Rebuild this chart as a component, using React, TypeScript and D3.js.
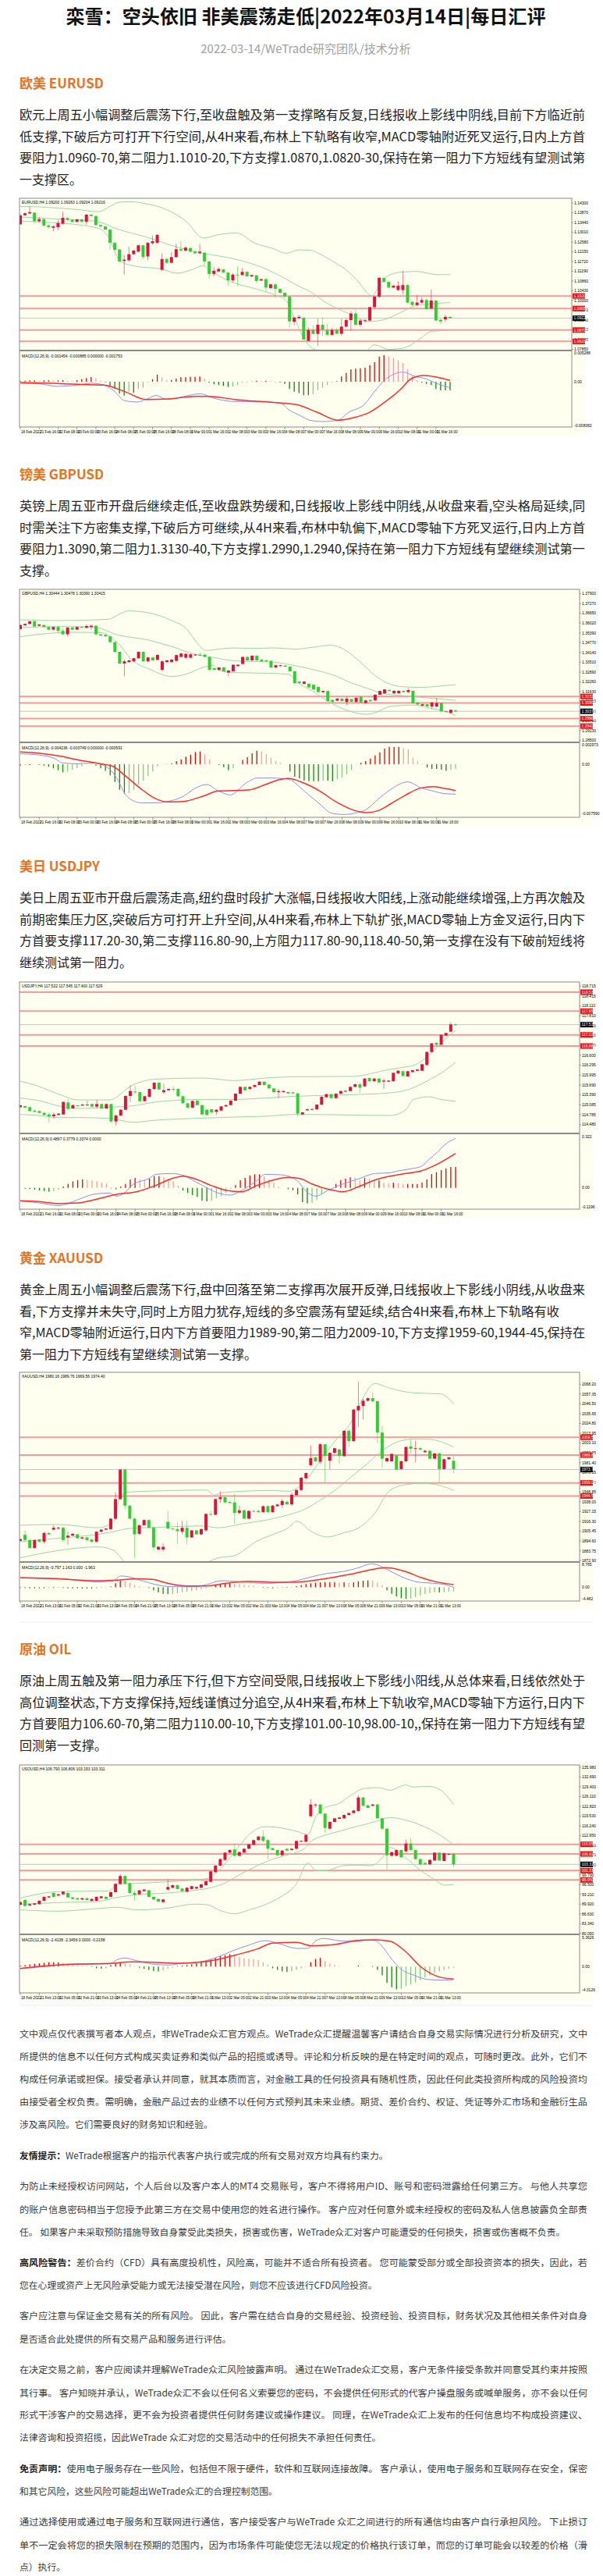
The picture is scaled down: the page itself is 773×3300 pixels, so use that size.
import React from 'react';
import * as d3 from 'd3';

type Candle = [number, number, number, number]; // open, high, low, close
type Knot = [number, number]; // candle index, value

// ---------------- page text ----------------
const titleText = '栾雪：空头依旧 非美震荡走低|2022年03月14日|每日汇评';
const subtitleText = '2022-03-14/WeTrade研究团队/技术分析';

const sectionTitles = ['欧美 EURUSD', '镑美 GBPUSD', '美日 USDJPY', '黄金 XAUUSD', '原油 OIL'];

const eurText = [
  '欧元上周五小幅调整后震荡下行,至收盘触及第一支撑略有反复,日线报收上影线中阴线,目前下方临近前',
  '低支撑,下破后方可打开下行空间,从4H来看,布林上下轨略有收窄,MACD零轴附近死叉运行,日内上方首',
  '要阻力1.0960-70,第二阻力1.1010-20,下方支撑1.0870,1.0820-30,保持在第一阻力下方短线有望测试第',
  '一支撑区。',
];
const gbpText = [
  '英镑上周五亚市开盘后继续走低,至收盘跌势缓和,日线报收上影线中阴线,从收盘来看,空头格局延续,同',
  '时需关注下方密集支撑,下破后方可继续,从4H来看,布林中轨偏下,MACD零轴下方死叉运行,日内上方首',
  '要阻力1.3090,第二阻力1.3130-40,下方支撑1.2990,1.2940,保持在第一阻力下方短线有望继续测试第一',
  '支撑。',
];
const jpyText = [
  '美日上周五亚市开盘后震荡走高,纽约盘时段扩大涨幅,日线报收大阳线,上涨动能继续增强,上方再次触及',
  '前期密集压力区,突破后方可打开上升空间,从4H来看,布林上下轨扩张,MACD零轴上方金叉运行,日内下',
  '方首要支撑117.20-30,第二支撑116.80-90,上方阻力117.80-90,118.40-50,第一支撑在没有下破前短线将',
  '继续测试第一阻力。',
];
const goldText = [
  '黄金上周五小幅调整后震荡下行,盘中回落至第二支撑再次展开反弹,日线报收上下影线小阴线,从收盘来',
  '看,下方支撑并未失守,同时上方阻力犹存,短线的多空震荡有望延续,结合4H来看,布林上下轨略有收',
  '窄,MACD零轴附近运行,日内下方首要阻力1989-90,第二阻力2009-10,下方支撑1959-60,1944-45,保持在',
  '第一阻力下方短线有望继续测试第一支撑。',
];
const oilText = [
  '原油上周五触及第一阻力承压下行,但下方空间受限,日线报收上下影线小阳线,从总体来看,日线依然处于',
  '高位调整状态,下方支撑保持,短线谨慎过分追空,从4H来看,布林上下轨收窄,MACD零轴下方运行,日内下',
  '方首要阻力106.60-70,第二阻力110.00-10,下方支撑101.00-10,98.00-10,,保持在第一阻力下方短线有望',
  '回测第一支撑。',
];

// footer: [bold prefix, text, is full-width line]
const footerLines: [string, string, boolean][] = [
  ['', '文中观点仅代表撰写者本人观点，非WeTrade众汇官方观点。WeTrade众汇提醒温馨客户请结合自身交易实际情况进行分析及研究，文中', true],
  ['', '所提供的信息不以任何方式构成买卖证券和类似产品的招揽或诱导。评论和分析反映的是在特定时间的观点，可随时更改。此外，它们不', true],
  ['', '构成任何承诺或担保。接受者承认并同意，就其本质而言，对金融工具的任何投资具有随机性质，因此任何此类投资所构成的风险投资均', true],
  ['', '由接受者全权负责。需明确，金融产品过去的业绩不以任何方式预判其未来业绩。期货、差价合约、权证、凭证等外汇市场和金融衍生品', true],
  ['', '涉及高风险。它们需要良好的财务知识和经验。', false],
  ['友情提示：', 'WeTrade根据客户的指示代表客户执行或完成的所有交易对双方均具有约束力。', false],
  ['', '为防止未经授权访问网站，个人后台以及客户本人的MT4 交易账号，客户不得将用户ID、账号和密码泄露给任何第三方。 与他人共享您', true],
  ['', '的账户信息密码相当于您授予此第三方在交易中使用您的姓名进行操作。 客户应对任何意外或未经授权的密码及私人信息披露负全部责', true],
  ['', '任。 如果客户未采取预防措施导致自身蒙受此类损失，损害或伤害，WeTrade众汇对客户可能遭受的任何损失，损害或伤害概不负责。', false],
  ['高风险警告：', '差价合约（CFD）具有高度投机性，风险高，可能并不适合所有投资者。 您可能蒙受部分或全部投资资本的损失，因此，若', true],
  ['', '您在心理或资产上无风险承受能力或无法接受潜在风险，则您不应该进行CFD风险投资。', false],
  ['', '客户应注意与保证金交易有关的所有风险。 因此，客户需在结合自身的交易经验、投资经验、投资目标，财务状况及其他相关条件对自身', true],
  ['', '是否适合此处提供的所有交易产品和服务进行评估。', false],
  ['', '在决定交易之前，客户应阅读并理解WeTrade众汇风险披露声明。 通过在WeTrade众汇交易，客户无条件接受条款并同意受其约束并按照', true],
  ['', '其行事。 客户知晓并承认，WeTrade众汇不会以任何名义索要您的密码，不会提供任何形式的代客户操盘服务或喊单服务，亦不会以任何', true],
  ['', '形式干涉客户的交易选择，更不会为投资者提供任何财务建议或操作建议。 同理，在WeTrade众汇上发布的任何信息均不构成投资建议、', true],
  ['', '法律咨询和投资招揽，因此WeTrade 众汇对您的交易活动中的任何损失不承担任何责任。', false],
  ['免责声明：', '使用电子服务存在一些风险，包括但不限于硬件，软件和互联网连接故障。 客户承认，使用电子服务和互联网存在安全，保密', true],
  ['', '和其它风险，这些风险可能超出WeTrade众汇的合理控制范围。', false],
  ['', '通过选择使用或通过电子服务和互联网进行通信，客户接受客户与WeTrade 众汇之间进行的所有通信均由客户自行承担风险。 下止损订', true],
  ['', '单不一定会将您的损失限制在预期的范围内，因为市场条件可能使您无法以规定的价格执行该订单，而您的订单可能会以较差的价格（滑', true],
  ['', '点）执行。', false],
];

// ---------------- time labels ----------------
const timeLabelsA = ['18 Feb 2022', '21 Feb 16:00', '22 Feb 08:00', '23 Feb 00:00', '23 Feb 16:00', '24 Feb 08:00', '25 Feb 00:00', '25 Feb 16:00', '28 Feb 08:00', '1 Mar 00:00', '1 Mar 16:00', '2 Mar 08:00', '3 Mar 00:00', '3 Mar 16:00', '4 Mar 08:00', '7 Mar 00:00', '7 Mar 16:00', '8 Mar 08:00', '9 Mar 00:00', '9 Mar 16:00', '10 Mar 08:00', '11 Mar 00:00', '11 Mar 16:00'];
const timeLabelsB = ['18 Feb 2022', '21 Feb 13:00', '22 Feb 05:00', '22 Feb 21:00', '23 Feb 13:00', '24 Feb 05:00', '24 Feb 21:00', '25 Feb 13:00', '28 Feb 05:00', '28 Feb 21:00', '1 Mar 13:00', '2 Mar 05:00', '2 Mar 21:00', '3 Mar 13:00', '4 Mar 05:00', '4 Mar 21:00', '7 Mar 13:00', '8 Mar 05:00', '8 Mar 21:00', '9 Mar 13:00', '10 Mar 05:00', '10 Mar 21:00', '11 Mar 13:00'];

// ---------------- EURUSD (prices in 1e-4, MACD in 1e-4) ----------------
const eurCandles: Candle[] = [
  [11335,11380,11335,11375],[11375,11389,11373,11384],[11383,11414,11380,11389],[11387,11389,11343,11349],[11349,11368,11343,11358],
  [11358,11360,11326,11330],[11330,11338,11318,11323],[11320,11332,11305,11326],[11323,11355,11311,11341],[11338,11391,11335,11364],
  [11363,11368,11349,11355],[11355,11357,11344,11346],[11346,11360,11344,11357],[11357,11360,11344,11346],[11346,11380,11332,11378],
  [11378,11380,11370,11372],[11372,11373,11330,11332],[11332,11335,11323,11326],[11326,11328,11310,11312],[11312,11312,11223,11254],
  [11254,11257,11220,11223],[11225,11225,11166,11172],[11174,11200,11114,11180],[11177,11238,11169,11204],[11204,11223,11200,11220],
  [11215,11246,11212,11243],[11243,11243,11183,11192],[11194,11257,11177,11254],[11252,11286,11246,11261],[11254,11292,11250,11289],
  [11135,11208,11131,11183],[11183,11189,11160,11166],[11166,11212,11166,11191],[11191,11249,11189,11226],[11226,11261,11215,11220],
  [11220,11240,11215,11233],[11231,11235,11212,11215],[11215,11220,11204,11208],[11208,11249,11206,11215],[11210,11215,11154,11172],
  [11172,11172,11097,11117],[11117,11146,11105,11131],[11128,11146,11126,11139],[11137,11140,11120,11123],[11123,11126,11066,11089],
  [11089,11120,11080,11114],[11114,11151,11063,11111],[11112,11142,11109,11126],[11126,11128,11106,11106],[11106,11114,11103,11112],
  [11111,11112,11078,11086],[11088,11097,11086,11094],[11094,11100,11040,11057],[11055,11074,11051,11071],[11071,11074,11011,11051],
  [11051,11054,11030,11034],[11034,11034,11011,11017],[11017,11020,10880,10908],[10906,10928,10891,10925],[10922,10937,10920,10928],
  [10924,10928,10828,10828],[10822,10883,10822,10870],[10870,10891,10851,10853],[10853,10920,10799,10893],[10893,10925,10845,10872],
  [10868,10897,10845,10849],[10849,10880,10845,10870],[10870,10880,10851,10854],[10854,10920,10845,10885],[10885,10922,10880,10914],
  [10914,10954,10868,10943],[10943,10960,10888,10893],[10893,10917,10885,10912],[10910,10920,10902,10913],[10912,10971,10908,10971],
  [10971,11020,10965,11017],[11017,11103,11011,11100],[11099,11103,11080,11082],[11082,11085,11055,11057],[11057,11070,11055,11065],
  [11046,11086,11043,11065],[11046,11131,11028,11068],[11068,11074,10986,10991],[10994,10996,10978,10980],[10980,11023,10979,10991],
  [10991,11014,10986,11002],[11002,11011,10959,10962],[10965,11048,10963,11000],[11000,11002,10910,10912],[10915,10920,10897,10908],
  [10917,10937,10908,10928],[10928,10930,10922,10922],
];
const eurUpper: Knot[] = [[1,11414],[5,11412],[13.2,11400],[17.6,11391],[19.8,11412],[22,11433],[24.2,11435],[27.6,11426],[32,11400],[36.4,11343],[39.7,11275],[43.5,11292],[46.8,11297],[50.7,11252],[54.5,11229],[57.3,11208],[60,11223],[62.8,11220],[63.7,11212],[67.2,11172],[70.5,11126],[72.7,11080],[74.4,11034],[75.5,11020],[77,11068],[79,11110],[82.1,11126],[84.9,11128],[89.3,11114],[92,11114]];
const eurMiddle: Knot[] = [[1,11368],[7.7,11360],[13.2,11355],[17.6,11346],[21.5,11315],[27.6,11280],[34.2,11235],[39.7,11208],[46.3,11183],[51.8,11149],[57.3,11094],[59.5,11068],[62.8,11034],[65,11000],[70.5,10943],[74.9,10908],[77.7,10914],[81.6,10948],[84.3,10975],[89.3,10988],[92,10991]];
const eurLower: Knot[] = [[1,11349],[7.7,11343],[17.6,11318],[19.8,11275],[22,11177],[25.3,11151],[30.9,11139],[34.2,11120],[37.5,11137],[39.7,11154],[40.8,11137],[45.2,11086],[51.8,11046],[55.1,11023],[57.3,11000],[58.4,10954],[60.6,10851],[62.8,10790],[66,10770],[70,10740],[74,10770],[76,10805],[79,10785],[82,10790],[85.4,10828],[88.2,10865],[92,10868]];
const eurLevels = [11020, 10965, 10870, 10820];
const eurCurrent = 10922;
const eurTicks = [11430,11387,11344,11301,11258,11215,11172,11129,11086,11043,11000,10957,10914,10871,10828,10785];
const eurHist = [1.0,1.9,2.4,2.4,1.9,2.4,2.4,1.9,2.4,2.9,1.4,1.0,2.9,4.8,6.7,8.6,6.7,1.9,-1.0,-7.7,-13.4,-22.1,-25.4,-18.2,-20.6,-13.4,-11.0,-1.4,4.8,13.0,8.2,3.4,3.4,5.8,8.2,8.2,9.1,9.1,9.6,5.8,-1.9,-4.8,-6.2,-7.7,-9.6,-8.6,-6.2,-1.9,-1.4,0.5,1.9,1.0,1.9,1.0,-0.5,-1.4,-3.8,-13.4,-18.2,-21,-25,-25,-23,-15.8,-11.0,-6.2,-1.4,1.0,9.6,16.3,22.6,24.0,25.0,26.0,30.7,36.0,46.6,49.0,46.6,44.0,39.4,34.6,22.6,10.6,3.4,-1.4,-3.8,-6.2,-13.4,-15.8,-15.8,-15.8];
const eurMacd: Knot[] = [[1,-2.9],[5,-3.8],[8.8,-8.6],[13.2,-6.2],[16,-2.9],[18.7,-6.2],[21,-18.2],[23.1,-35],[25.9,-37.4],[27.6,-32.6],[29.8,-25.4],[32,-32.6],[35.3,-27.8],[39.1,-22.1],[41.9,-30.2],[46.3,-36.5],[51.8,-36.5],[56.2,-39.8],[57.9,-51.8],[60,-61.4],[62.8,-72],[65,-73.4],[68.3,-71],[70.5,-56.6],[73.8,-42.2],[76,-18.2],[78.2,3.4],[80.5,15.4],[82.1,17.8],[84.3,10.6],[87.1,4.8],[89.3,-3.8],[92,-11]];
const eurSignal: Knot[] = [[1,-1.4],[7.7,-2.9],[13.2,-4.8],[18.7,-6.2],[23.1,-18.2],[27.6,-32.6],[32.5,-31.7],[38,-26.9],[40.8,-26.9],[46.3,-32.6],[51.8,-36.5],[57.3,-39.8],[59.5,-42.2],[63.9,-56.6],[68.3,-71],[71.6,-66.2],[74.9,-56.6],[78.2,-37.4],[81.6,-13.4],[83.8,5.8],[86.5,11.5],[89.3,8.2],[92,2.4]];
const eurMacdLabels: [number, string][] = [[52.9, '0.005288'], [0, '0.00'], [-80.8, '-0.008082']];

// ---------------- GBPUSD (prices in 1e-4, MACD in 1e-4) ----------------
const gbpCandles: Candle[] = [
  [13563,13593,13560,13590],[13588,13600,13585,13597],[13597,13617,13593,13613],[13613,13617,13577,13580],[13585,13597,13580,13593],
  [13590,13593,13575,13577],[13577,13580,13557,13560],[13560,13580,13557,13577],[13577,13580,13538,13552],[13552,13567,13527,13530],
  [13530,13577,13518,13573],[13573,13577,13557,13560],[13560,13580,13557,13577],[13577,13580,13568,13572],[13572,13593,13568,13583],
  [13577,13593,13560,13585],[13585,13588,13527,13530],[13530,13533,13520,13522],[13527,13530,13513,13517],[13517,13520,13477,13480],
  [13480,13483,13413,13418],[13418,13420,13340,13343],[13343,13368,13260,13357],[13352,13368,13348,13363],[13357,13380,13352,13377],
  [13377,13420,13373,13418],[13418,13422,13352,13357],[13357,13385,13352,13382],[13382,13385,13360,13363],[13367,13403,13363,13398],
  [13302,13363,13295,13357],[13352,13368,13348,13363],[13352,13372,13348,13368],[13360,13400,13355,13397],[13385,13413,13382,13407],
  [13380,13410,13377,13405],[13380,13407,13377,13402],[13397,13405,13393,13400],[13400,13413,13390,13393],[13400,13403,13382,13385],
  [13385,13388,13298,13302],[13313,13317,13298,13302],[13302,13320,13298,13318],[13318,13322,13290,13293],[13285,13302,13260,13298],
  [13293,13338,13290,13335],[13327,13340,13323,13335],[13340,13390,13335,13385],[13385,13393,13360,13363],[13363,13397,13360,13393],
  [13393,13397,13360,13363],[13368,13372,13352,13357],[13363,13367,13352,13357],[13360,13363,13315,13318],[13318,13335,13313,13332],
  [13327,13335,13323,13332],[13330,13333,13320,13323],[13323,13327,13290,13293],[13293,13297,13215,13218],[13227,13230,13213,13218],
  [13213,13230,13208,13227],[13213,13217,13187,13190],[13207,13210,13173,13177],[13193,13197,13157,13160],[13160,13170,13155,13168],
  [13167,13170,13098,13102],[13110,13113,13093,13097],[13105,13122,13102,13118],[13118,13122,13098,13102],[13097,13130,13077,13118],
  [13115,13118,13095,13098],[13097,13127,13093,13123],[13130,13133,13090,13093],[13090,13110,13087,13107],[13110,13113,13098,13102],
  [13107,13147,13103,13143],[13143,13170,13140,13167],[13152,13180,13148,13177],[13173,13177,13163,13167],[13152,13172,13148,13168],
  [13152,13172,13148,13168],[13168,13172,13157,13160],[13160,13185,13152,13173],[13168,13172,13085,13088],[13093,13097,13077,13080],
  [13073,13085,13070,13082],[13082,13085,13065,13068],[13068,13097,13052,13093],[13068,13123,13060,13090],[13090,13093,13035,13037],
  [13038,13042,13030,13033],[13027,13050,13022,13047],[13043,13047,13033,13037],
];
const gbpUpper: Knot[] = [[1,13623],[9.1,13618],[19.8,13627],[21.5,13652],[23.9,13680],[28.1,13668],[33,13618],[36.3,13560],[37.9,13493],[40.3,13427],[42.9,13435],[46.2,13443],[49.5,13440],[54.5,13443],[59.4,13435],[62.7,13447],[66.8,13460],[69.3,13435],[72.6,13360],[75.9,13268],[79.2,13210],[82.5,13193],[85.8,13190],[89.1,13197],[93,13207]];
const gbpMiddle: Knot[] = [[1,13573],[9.1,13580],[16.5,13577],[21.5,13527],[28.1,13493],[33,13452],[37.9,13402],[41.3,13385],[46.2,13360],[54.5,13352],[59.4,13327],[64.4,13293],[67.7,13263],[71,13218],[74.3,13185],[77.6,13152],[80.9,13140],[84.2,13130],[87.5,13122],[93,13107]];
const gbpLower: Knot[] = [[1,13515],[6.6,13535],[13.2,13543],[18.2,13540],[21.5,13477],[24.8,13360],[28.1,13310],[33,13260],[36.3,13277],[39.6,13318],[41.7,13330],[43,13300],[46.2,13285],[54.5,13280],[57.8,13273],[59.4,13227],[62.7,13168],[66,13102],[69.3,13052],[74.3,13018],[75.9,13027],[79.2,13068],[84.2,13077],[87.5,13057],[90.8,13035],[93,13010]];
const gbpLevels = [13132, 13090, 12990, 12942];
const gbpCurrent = 13037;
const gbpTicks = [13790,13727,13665,13602,13539,13477,13414,13351,13289,13226,13163,13101,13038,12975,12913,12850];
const gbpHist = [-2.0,-1.2,-1.2,-0.4,-0.8,-2.0,-4.0,-6.4,-9.2,-12.5,-11.3,-8.4,-6.0,-3.2,-0.4,-0.4,-2.0,-6.4,-10.1,-17.3,-27.3,-39.4,-45.4,-44.6,-39.4,-31.4,-25.3,-18.1,-11.3,-3.2,-0.4,0.4,1.2,4.8,7.6,11.7,14.9,18.9,19.7,15.7,7.6,0,-1.2,-4.4,-9.2,-6.0,0,6.8,10.9,16.9,20.9,19.7,15.7,10.1,4.8,2.0,0,-11.3,-19.3,-22.1,-25.3,-26.1,-26.1,-26.1,-25.3,-25.3,-26.1,-23.3,-20.5,-15.3,-9.2,-0.4,2.0,4.8,8.8,13.7,18.1,24.1,26.9,26.9,26.9,24.9,22.9,10.1,4.8,-0.4,-5.2,-7.2,-7.2,-8.4,-10.1,-8.4,-7.2];
const gbpMacd: Knot[] = [[1,16.1],[4.1,14.9],[8.3,8.8],[9.9,2.0],[13.2,0.8],[16.5,2.0],[19.8,-7.2],[21.4,-21.3],[23.1,-45.4],[25.2,-57.5],[26.4,-59.5],[29.7,-59.5],[32.2,-57.5],[35.5,-49.4],[37.9,-37.4],[40.4,-31.4],[42.9,-41.4],[45.4,-47.4],[48.7,-29.3],[51.1,-21.3],[54.4,-21.3],[57.7,-23.3],[61,-41.4],[64.3,-61.5],[66.8,-75.6],[69.3,-77.6],[71.7,-75.6],[74.2,-69.5],[76.7,-53.5],[79.2,-39.4],[82.9,-27.3],[85.7,-36.6],[88.2,-41.4],[90.7,-45.4],[93,-46.2]];
const gbpSignal: Knot[] = [[1,18.9],[5,16.9],[9.1,12.9],[13.2,6.8],[17.3,1.6],[20.6,-3.2],[23.1,-17.3],[26.4,-37.4],[29.7,-53.5],[32.2,-58.3],[35.5,-57.5],[39.6,-49.4],[42.9,-41.4],[46.2,-40.6],[49.5,-39.4],[52.8,-31.4],[56.1,-23.3],[57.7,-22.1],[61,-29.3],[64.3,-41.4],[67.6,-57.5],[70.9,-69.5],[74.2,-74.8],[76.7,-71.6],[79.2,-61.5],[82.5,-47.4],[85.7,-36.6],[88.2,-34.6],[90.7,-37.4],[93,-40.6]];
const gbpMacdLabels: [number, string][] = [[29.7, '0.002973'], [0, '0.00'], [-75.9, '-0.007590']];

// ---------------- USDJPY (MACD in 1e-3) ----------------
const jpyCandles: Candle[] = [
  [115.014,115.093,114.998,115.069],[115.045,115.061,114.990,114.998],[115.014,115.030,114.880,114.894],[114.910,114.920,114.860,114.870],[114.894,114.910,114.830,114.838],
  [114.838,114.850,114.760,114.775],[114.791,114.854,114.536,114.735],[114.735,114.854,114.655,114.791],[114.775,114.830,114.760,114.815],[114.791,115.190,114.775,115.173],
  [115.157,115.268,114.934,114.958],[114.974,115.093,114.960,115.077],[115.069,115.085,115.030,115.045],[115.061,115.110,115.050,115.093],[115.069,115.213,115.053,115.093],
  [115.109,115.120,115.015,115.030],[115.030,115.236,114.974,115.109],[115.109,115.120,114.960,114.974],[114.974,115.120,114.960,115.109],[115.109,115.115,114.536,114.576],
  [114.576,114.791,114.456,114.759],[114.759,114.950,114.740,114.934],[114.934,115.370,114.920,115.356],[115.356,115.690,115.173,115.507],[115.491,115.666,115.412,115.467],
  [115.475,115.490,115.180,115.197],[115.197,115.360,115.180,115.348],[115.332,115.590,115.316,115.571],[115.571,115.780,115.555,115.762],[115.762,115.770,115.540,115.555],
  [115.475,115.730,115.412,115.531],[115.531,115.590,115.520,115.571],[115.571,115.650,115.491,115.555],[115.571,115.590,115.340,115.348],[115.348,115.360,115.120,115.133],
  [115.133,115.150,114.980,114.998],[114.998,115.220,114.990,115.205],[115.213,115.230,115.060,115.077],[115.077,115.090,114.770,114.791],[114.934,114.950,114.760,114.775],
  [114.950,114.960,114.840,114.854],[114.870,114.950,114.780,114.934],[114.910,115.050,114.890,115.037],[115.037,115.090,115.020,115.077],[115.077,115.230,115.060,115.213],
  [115.213,115.440,115.200,115.427],[115.427,115.650,115.410,115.634],[115.634,115.650,115.520,115.531],[115.571,115.650,115.550,115.634],[115.634,115.700,115.620,115.690],
  [115.690,115.800,115.680,115.794],[115.794,115.810,115.680,115.690],[115.706,115.720,115.575,115.587],[115.587,115.600,115.460,115.475],[115.475,115.571,115.292,115.507],
  [115.475,115.530,115.460,115.507],[115.475,115.490,115.420,115.435],[115.467,115.480,115.420,115.435],[115.435,115.451,114.735,114.815],[114.791,114.870,114.770,114.854],
  [114.918,114.970,114.900,114.950],[114.934,114.980,114.920,114.958],[114.950,115.100,114.930,115.093],[115.093,115.340,115.080,115.332],[115.316,115.430,115.300,115.412],
  [115.412,115.430,115.280,115.292],[115.292,115.440,115.270,115.427],[115.427,115.520,115.410,115.507],[115.491,115.530,115.470,115.515],[115.507,115.650,115.490,115.634],
  [115.634,115.730,115.620,115.714],[115.714,115.770,115.451,115.611],[115.650,115.900,115.630,115.889],[115.905,115.920,115.790,115.810],[115.810,115.900,115.790,115.889],
  [115.889,115.900,115.750,115.770],[115.794,115.889,115.571,115.826],[115.794,115.840,115.780,115.826],[115.810,116.080,115.790,116.064],[116.048,116.150,116.030,116.128],
  [116.112,116.130,115.950,115.969],[115.953,116.130,115.940,116.112],[116.088,116.160,116.070,116.144],[116.128,116.180,116.110,116.168],[116.128,116.340,116.110,116.327],
  [116.303,116.720,116.290,116.701],[116.701,116.980,116.680,116.964],[116.980,117.000,116.910,116.924],[116.924,117.240,116.900,117.226],[117.203,117.300,117.190,117.282],
  [117.322,117.617,117.300,117.545],[117.545,117.577,117.513,117.537],
];
const jpyUpper: Knot[] = [[1,115.810],[4.9,115.650],[9,115.412],[13.1,115.236],[19.6,115.236],[24.5,115.690],[29.4,115.873],[39.2,115.905],[45.7,115.826],[52.2,115.905],[58.7,115.945],[70.2,115.953],[78.3,116.168],[81.6,116.247],[83.2,116.287],[86.5,116.606],[88.9,116.964],[92,117.362]];
const jpyMiddle: Knot[] = [[1,115.292],[4.9,115.213],[9,115.053],[13.1,114.974],[19.6,115.014],[24.5,115.053],[29.4,115.173],[39.2,115.252],[45.7,115.252],[52.2,115.292],[58.7,115.348],[70.2,115.396],[78.3,115.451],[81.6,115.531],[83.2,115.611],[86.5,115.849],[88.9,116.048],[92,116.383]];
const jpyLower: Knot[] = [[1,114.791],[4.9,114.759],[9,114.695],[13.1,114.695],[19.6,114.671],[24.5,114.552],[29.4,114.616],[39.2,114.679],[45.7,114.711],[52.2,114.735],[58.7,114.791],[70.2,114.775],[78.3,114.759],[81.6,114.934],[83.2,115.252],[86.5,115.332],[88.9,115.252],[92,115.189]];
const jpyLevels = [118.532, 117.951, 117.226, 116.884];
const jpyCurrent = 117.537;
const jpyTicks = [118.715,118.415,118.110,117.810,117.505,117.205,116.900,116.600,116.295,115.995,115.690,115.390,115.085,114.785,114.480];
const jpyHist = [0,-4.9,-8.2,-11.4,-16.4,-19.6,-24.5,-21.3,-11.4,8.2,24.5,40.9,49.1,52.3,49.1,45.8,40.9,32.7,27.8,-3.3,-8.2,8.2,24.5,52.3,62.1,52.3,49.1,57.2,73.6,73.6,65.4,57.2,40.9,13.1,-16.4,-32.7,-45.8,-57.2,-81.8,-85,-81.8,-65.4,-52.3,-32.7,-8.2,16.4,49.1,62.1,78.5,85,85,73.6,52.3,32.7,8.2,0,-8.2,-16.4,-40.9,-89.9,-98.1,-94.8,-73.6,-40.9,-13.1,0,24.5,49.1,57.2,65.4,62.1,49.1,62.1,57.2,45.8,45.8,32.7,29.4,32.7,29.4,24.5,24.5,24.5,24.5,32.7,52.3,85,98.1,111.2,122.6,130.8,130.8];
const jpyMacd: Knot[] = [[1,-81.8],[4.9,-94.8],[9,-111.2],[13.1,-73.6],[16.3,-40.9],[19.6,-32.7],[21.2,-52.3],[22.9,-29.4],[24.5,19.6],[27.8,57.2],[29.4,85],[32.6,89.9],[35.1,78.5],[37.5,40.9],[40,0],[42.4,-32.7],[44.9,-45.8],[47.3,-16.4],[50.6,49.1],[52.2,85],[55.5,81.8],[58.7,49.1],[61.2,-32.7],[62.8,-52.3],[65.3,-16.4],[68.5,24.5],[71.8,57.2],[75.1,89.9],[78.3,94.8],[80,106.3],[83.2,122.6],[84.8,134.1],[86.5,179.9],[88.1,220.7],[89.7,269.8],[92,310.7]];
const jpySignal: Knot[] = [[1,-81.8],[4.9,-86.7],[9,-98.1],[13.1,-94.8],[17.1,-70.3],[21.2,-40.9],[25.3,-24.5],[29.4,16.4],[32.6,57.2],[35.1,73.6],[37.5,57.2],[40.8,16.4],[44.1,-16.4],[47.3,-24.5],[50.6,16.4],[53.9,49.1],[57.1,65.4],[59.6,57.2],[62,24.5],[65.3,-8.2],[68.5,-24.5],[71.8,8.2],[75.1,49.1],[78.3,73.6],[81.6,89.9],[84.8,106.3],[88.1,147.2],[92,215.8]];
const jpyMacdLabels: [number, string][] = [[322, '0.322'], [0, '0.00'], [-119.6, '-0.1196']];

// ---------------- XAUUSD ----------------
const goldCandles: Candle[] = [
  [1894.8,1897.5,1894.0,1896.8],[1901.5,1906.4,1894.8,1895.7],[1895.7,1896.5,1886.5,1887.0],[1887.0,1896.5,1886.0,1895.7],[1896.3,1897.0,1893.0,1893.9],
  [1893.9,1904.9,1891.9,1903.5],[1903.5,1904.5,1901.5,1902.0],[1907.2,1912.1,1906.4,1909.3],[1908.4,1910.5,1907.5,1909.3],[1909.3,1910.7,1893.4,1895.7],
  [1898.6,1904.9,1890.5,1900.6],[1900.6,1903.5,1900.0,1902.6],[1902.0,1903.0,1897.0,1897.7],[1897.4,1899.5,1897.0,1898.6],[1898.6,1899.5,1895.0,1895.7],
  [1896.3,1897.0,1892.5,1893.9],[1893.9,1905.5,1893.0,1904.9],[1904.9,1907.8,1904.0,1907.2],[1907.2,1909.0,1906.5,1908.4],[1907.8,1920.0,1907.0,1919.4],
  [1919.4,1948.8,1917.9,1941.0],[1941.0,1974.0,1940.0,1973.7],[1973.7,1974.0,1929.5,1933.8],[1933.8,1934.5,1919.0,1919.4],[1919.4,1920.8,1876.0,1902.0],
  [1902.6,1913.0,1901.5,1912.1],[1912.1,1918.5,1911.5,1917.9],[1917.9,1918.5,1908.5,1909.3],[1909.3,1910.7,1884.7,1887.6],[1885.3,1889.0,1884.5,1888.2],
  [1885.3,1891.9,1883.3,1888.2],[1915.9,1928.0,1907.8,1908.4],[1908.4,1909.0,1907.0,1907.8],[1907.8,1915.0,1891.9,1905.5],[1904.9,1917.0,1902.0,1909.3],
  [1909.3,1917.0,1890.5,1898.6],[1898.6,1907.0,1898.0,1906.4],[1906.4,1907.0,1901.5,1902.0],[1902.0,1908.5,1901.0,1907.8],[1906.4,1925.5,1905.5,1924.6],
  [1924.6,1928.0,1922.3,1923.7],[1923.7,1942.0,1923.0,1941.0],[1941.0,1949.7,1936.7,1943.1],[1943.1,1944.0,1937.0,1937.3],[1937.9,1938.5,1936.0,1936.7],
  [1937.3,1946.8,1913.6,1925.7],[1925.7,1933.8,1923.7,1928.6],[1928.6,1929.5,1919.0,1919.4],[1919.4,1928.5,1918.5,1928.0],[1928.0,1929.0,1927.0,1927.5],
  [1928.0,1929.0,1926.0,1926.6],[1926.6,1934.0,1926.0,1933.2],[1933.2,1934.0,1926.0,1926.6],[1926.6,1934.5,1926.0,1933.8],[1933.2,1936.0,1932.5,1935.0],
  [1934.4,1941.0,1930.9,1939.0],[1938.1,1939.0,1934.5,1935.3],[1935.3,1948.3,1933.8,1945.9],[1945.4,1952.0,1944.5,1951.1],[1951.1,1965.5,1950.5,1964.7],
  [1964.1,1970.5,1963.5,1969.9],[1978.6,2000.3,1977.2,1986.4],[1987.3,1988.0,1982.0,1982.9],[1982.3,2003.1,1980.0,2001.7],[2001.7,2002.0,1959.8,1988.7],
  [1983.5,1993.0,1974.3,1992.2],[1992.2,1998.0,1991.5,1997.4],[1995.9,1997.4,1980.0,1988.7],[1988.7,2017.5,1988.0,2016.7],[2016.7,2019.0,1998.8,2005.2],
  [2005.2,2041.0,2004.5,2040.1],[2039.3,2071.0,2020.5,2044.2],[2044.2,2052.3,2029.1,2049.9],[2049.9,2053.5,2049.0,2052.8],[2052.8,2059.5,2047.9,2049.4],
  [2049.4,2050.8,2003.1,2014.7],[2014.7,2021.9,1975.7,1985.8],[1982.9,1987.5,1981.5,1986.4],[1982.9,1992.0,1982.0,1991.0],[1989.3,1990.0,1973.0,1973.7],
  [1974.3,1984.0,1973.5,1982.9],[1982.9,1999.0,1982.0,1998.8],[1999.4,2007.5,1991.6,1996.8],[1996.8,2006.0,1981.5,1997.4],[1997.4,1998.5,1995.0,1995.9],
  [1993.0,1996.0,1992.0,1994.5],[1994.5,1995.5,1985.0,1985.8],[1985.8,1992.0,1985.0,1991.6],[1991.6,1993.0,1959.8,1974.3],[1974.3,1986.0,1973.5,1985.2],
  [1985.2,1987.5,1984.5,1987.3],[1983.5,1988.7,1969.9,1974.3],
];
const goldUpper: Knot[] = [[1,1912.1],[9,1913.0],[17.2,1909.3],[20.5,1915.0],[22.1,1945.4],[23.8,1948.8],[33.6,1950.6],[40.1,1951.1],[41.8,1945.4],[43.4,1948.3],[54.1,1950.6],[57.3,1949.7],[60.6,1959.8],[63.9,1982.9],[67.2,2006.0],[70.5,2026.3],[72.9,2052.3],[75.4,2069.0],[78.6,2063.8],[83.6,2058.6],[89.3,2057.5],[92,2046.5]];
const goldMiddle: Knot[] = [[1,1893.9],[9,1897.7],[17.2,1902.0],[20.5,1904.9],[23.8,1908.4],[31.1,1910.1],[39.3,1911.3],[42.6,1909.3],[47.5,1913.6],[54.1,1919.4],[57.3,1923.7],[60.6,1929.5],[63.9,1939.6],[67.2,1951.1],[70.5,1965.6],[73.8,1980.0],[77,1994.5],[80.3,2004.6],[83.6,2007.5],[86.9,2007.2],[92,1998.8]];
const goldLower: Knot[] = [[1,1876.0],[9,1884.1],[17.2,1888.2],[20.5,1884.7],[22.9,1871.7],[25.4,1864.5],[33.6,1867.4],[39.3,1869.7],[42.6,1876.0],[45.9,1878.3],[50.8,1894.8],[54.1,1902.0],[57.3,1909.3],[59,1916.5],[62.2,1904.9],[65.5,1899.1],[68.8,1903.5],[72.1,1909.3],[75.4,1925.1],[78.6,1950.6],[81.9,1956.9],[85.2,1958.4],[88.5,1956.9],[92,1950.6]];
const goldLevels = [2009.5, 1989.8, 1959.0, 1944.5];
const goldCurrent = 1973.7;
const goldTicks = [2068.20,2057.35,2046.50,2035.65,2024.80,2013.95,2003.10,1992.25,1981.40,1970.55,1959.70,1948.85,1938.00,1927.15,1916.30,1905.45,1894.60,1883.75,1872.90];
const goldHist = [-0.3,-0.3,-0.4,-0.4,-0.4,-0.4,-0.3,-0.3,-0.2,-0.3,-0.4,-0.4,-0.4,-0.5,-0.5,-0.5,-0.4,-0.3,-0.1,0.3,1.5,2.5,2.2,1.6,0.8,0.4,0.2,-0.3,-1.2,-2.0,-2.5,-2.7,-2.6,-2.3,-1.9,-1.7,-1.4,-1.1,-0.8,-0.4,0.2,0.8,1.2,1.4,1.5,1.3,1.2,1.0,0.8,0.6,0.2,-0.2,-0.3,-0.4,-0.3,-0.2,-0.2,0.1,0.4,0.8,1.2,1.5,1.7,1.9,2.0,2.0,2.0,1.8,1.9,1.7,1.9,2.2,2.5,2.6,2.5,1.8,0.8,-1.2,-2.5,-3.5,-4.2,-4.5,-4.4,-3.8,-3.2,-2.6,-2.2,-2.0,-2.0,-1.9,-1.8,-1.6];
const goldMacd: Knot[] = [[1,3.5],[9,3.3],[17.2,2.0],[20.5,2.5],[22.1,4.3],[23.8,4.0],[26.2,2.7],[29.5,1.0],[32.8,0.2],[37.7,0.2],[40.1,1.0],[43.4,2.5],[47.5,2.0],[52.4,1.5],[55.7,1.7],[59,2.5],[62.2,4.0],[65.5,5.3],[68.8,6.0],[72.1,7.5],[74.6,8.9],[75.8,8.7],[77.8,7.0],[81.1,4.0],[84.4,2.0],[87.7,1.5],[90.2,1.0],[92,0]];
const goldSignal: Knot[] = [[1,3.7],[9,3.2],[17.2,2.5],[21.3,2.7],[25.4,3.2],[28.7,3.0],[32,1.5],[36.1,0.5],[40.1,0.5],[44.2,1.5],[49.1,2.3],[54.1,1.9],[59,2.0],[62.2,2.5],[66.4,3.7],[70.5,5.0],[74.6,6.7],[77.8,7.5],[81.9,6.0],[85.2,3.7],[88.5,2.0],[92,1.0]];
const goldMacdLabels: [number, string][] = [[8.765, '8.765'], [0, '0.00'], [-4.48, '-4.482']];

// ---------------- OIL ----------------
const oilCandles: Candle[] = [
  [89.73,90.80,89.40,90.61],[91.31,91.60,89.20,89.29],[89.47,90.10,89.30,89.91],[89.73,90.40,89.50,90.17],[89.91,91.20,89.80,91.04],
  [91.04,92.50,90.90,92.36],[92.18,92.70,92.00,92.53],[93.67,93.90,92.20,92.36],[92.80,93.40,92.60,93.23],[93.23,94.30,93.00,94.11],
  [93.67,93.90,92.00,92.18],[92.18,92.40,91.50,91.66],[91.92,92.10,91.30,91.48],[91.48,92.10,91.30,91.92],[91.92,92.10,91.10,91.31],
  [91.04,91.80,90.80,91.66],[91.04,92.50,90.90,92.36],[91.92,92.70,91.80,92.53],[92.36,92.60,91.50,91.66],[92.36,94.10,92.20,93.94],
  [93.94,96.90,93.80,96.74],[96.74,100.07,96.30,99.37],[99.37,99.60,96.60,96.74],[96.92,97.10,93.50,93.67],[93.67,94.55,91.04,93.06],
  [93.23,94.70,93.00,94.55],[94.29,95.00,94.10,94.81],[94.55,94.80,92.20,92.36],[92.36,92.60,91.30,91.48],[91.66,91.90,90.60,90.78],
  [90.61,91.70,90.40,91.48],[94.81,98.31,94.55,95.69],[95.42,96.50,95.20,96.30],[96.30,96.50,94.80,94.99],[95.16,95.40,94.10,94.29],
  [94.11,95.60,93.90,95.42],[94.99,96.10,94.80,95.95],[95.16,95.90,95.00,95.69],[95.42,96.80,95.20,96.56],[96.30,97.80,96.10,97.61],
  [97.44,101.10,97.20,100.94],[100.68,103.10,100.50,102.87],[102.87,105.30,102.70,105.06],[104.80,107.40,104.60,107.25],[107.25,108.30,107.00,108.13],
  [108.30,109.88,105.67,106.20],[106.20,107.60,106.00,107.42],[107.25,108.70,107.10,108.56],[108.56,110.20,108.40,110.05],[109.88,111.60,109.70,111.46],
  [111.46,112.90,111.30,112.68],[112.68,114.70,110.75,111.19],[111.46,111.81,105.06,108.56],[108.74,108.90,108.00,108.13],[108.13,108.30,106.20,106.37],
  [106.37,108.10,106.20,107.95],[108.56,108.80,107.80,107.95],[108.13,108.80,107.90,108.56],[108.56,111.40,108.40,111.19],[110.93,111.40,110.80,111.19],
  [110.93,113.40,110.70,113.21],[119.51,125.21,119.34,123.46],[123.19,123.72,122.58,123.46],[123.46,123.70,120.20,120.39],[120.39,120.57,113.82,115.57],
  [115.31,117.80,115.10,117.59],[117.59,119.00,117.40,118.81],[118.64,119.30,118.50,119.08],[118.81,120.10,118.60,119.95],[119.95,120.80,119.80,120.57],
  [120.57,121.60,120.40,121.44],[121.27,126.52,120.83,125.82],[125.82,126.00,122.80,123.02],[123.19,123.40,122.10,122.32],[123.02,123.70,122.80,123.46],
  [123.46,123.70,118.60,118.81],[118.81,119.00,115.10,115.31],[115.31,115.57,101.56,106.37],[106.20,107.60,106.00,107.42],[106.20,108.30,106.00,108.13],
  [108.13,108.30,105.50,105.67],[107.69,111.63,107.25,110.32],[110.32,112.07,107.69,108.13],[108.13,108.30,104.80,105.06],[105.06,105.30,103.10,103.31],
  [103.75,104.00,103.10,103.31],[103.31,104.95,103.10,104.80],[104.62,107.40,104.40,107.25],[107.25,107.50,104.40,104.62],[104.45,107.30,104.20,107.07],
  [106.55,106.95,106.30,106.81],[106.81,107.25,102.43,103.31],
];
const oilUpper: Knot[] = [[1,91.92],[9,94.11],[17.2,94.29],[19.7,94.29],[21.3,96.74],[25.4,96.91],[32,97.44],[37.7,98.05],[40.1,98.49],[42.6,101.12],[45.9,107.25],[49.1,113.38],[52.4,116.01],[55.7,115.57],[59,114.43],[61.4,113.38],[63.1,119.51],[64.7,122.14],[68,123.89],[70.4,126.52],[72.9,128.71],[76.1,129.15],[78.6,128.27],[81.9,130.03],[83.5,129.33],[86.8,129.59],[89.3,128.27],[92,123.46]];
const oilMiddle: Knot[] = [[1,89.91],[9,90.43],[17.2,90.78],[21.3,92.18],[25.4,93.06],[32,93.67],[37.7,94.55],[41,95.42],[44.2,97.18],[47.5,100.24],[50.8,102.87],[54,105.06],[57.3,106.55],[60.6,108.56],[62.2,111.19],[64.7,112.94],[68,114.43],[70.4,115.57],[73.7,116.89],[76.1,117.94],[78.6,119.08],[81.9,118.20],[85.2,116.45],[88.5,113.82],[92,109.88]];
const oilLower: Knot[] = [[1,87.98],[9,87.54],[17.2,88.42],[21.3,88.85],[25.4,87.98],[31.1,88.42],[37.7,89.91],[40.1,89.73],[43.4,87.54],[45.9,86.66],[49.1,87.98],[52.4,89.73],[55.7,92.36],[59,96.74],[61.4,103.75],[63.1,101.12],[65.5,101.29],[68.8,102.87],[72.1,103.05],[74.6,102.87],[77,105.50],[78.6,109.00],[81.9,105.50],[85.2,101.12],[87.7,98.49],[90.2,96.30],[92,96.56]];
const oilLevels = [110.05, 106.81, 101.21, 98.05];
const oilCurrent = 103.31;
const oilTicks = [135.98,132.69,129.40,126.11,122.82,119.53,116.24,112.95,109.66,106.37,103.08,99.79,96.50,93.21,89.92,86.63,83.34,80.05];
const oilHist = [0.2,0.3,0.4,0.5,0.6,0.7,0.8,0.8,0.8,0.7,0.6,0.5,0.3,0.2,0.1,-0.1,-0.3,-0.4,-0.3,0.3,0.6,0.8,0.6,0.4,0.1,-0.2,-0.4,-0.6,-0.8,-0.9,-0.7,-0.4,-0.2,0.1,0.2,0.3,0.4,0.6,0.8,1.0,1.3,1.6,1.9,2.1,2.3,2.1,1.8,1.6,1.5,1.4,1.2,0.8,0.4,-0.3,-0.6,-0.9,-1.0,-0.9,-0.6,-0.3,0.0,0.8,1.4,1.6,1.0,0.6,0.3,0.1,0.0,0.0,0.0,0.2,0.1,0.0,-0.1,-0.6,-1.6,-3.0,-3.8,-4.2,-4.1,-3.6,-3.3,-2.9,-2.5,-2.0,-1.6,-1.2,-0.9,-0.6,-0.4,-0.2];
const oilMacd: Knot[] = [[1,-0.34],[4.9,-0.1],[9,0.29],[17.2,0.48],[19.7,0.48],[21.3,1.25],[23,1.58],[25.4,1.1],[29.5,0.38],[32,0.29],[35.2,0.62],[39.3,0.96],[42.6,1.82],[45.9,3.02],[49.1,3.98],[52.4,4.79],[55.7,4.12],[59,3.35],[61.4,3.35],[63.1,4.79],[64.7,5.17],[68.8,4.69],[72.9,4.93],[75.4,4.79],[77,3.74],[78.6,1.82],[81.1,-0.57],[83.5,-1.53],[86.8,-2.4],[90.1,-2.49],[92,-2.4]];
const oilSignal: Knot[] = [[1,-0.34],[6.6,0.14],[13.1,0.48],[19.7,0.57],[24.6,0.86],[29.5,0.77],[34.4,0.62],[39.3,0.86],[42.6,1.34],[45.9,2.06],[50.8,3.26],[54,4.31],[59,4.45],[62.2,3.83],[66.4,3.98],[70.5,4.6],[75.4,4.93],[78.6,4.69],[81.9,2.78],[85.2,-0.1],[88.5,-1.77],[92,-2.3]];
const oilMacdLabels: [number, string][] = [[5.3626, '5.3626'], [0, '0.00'], [-4.31, '-4.3126']];

// ---------------- chart specs ----------------
interface Spec {
  top: number; sep: number; bottom: number; left: number; right: number; imgRight: number;
  xFirst: number; xLast: number;
  domain: [number, number]; macdDomain: [number, number];
  unit: number; decimals: number;
  candles: Candle[]; upper: Knot[]; middle: Knot[]; lower: Knot[];
  levels: number[]; current: number; ticks: number[];
  hist: number[]; macd: Knot[]; signal: Knot[]; macdLabels: [number, string][];
  times: string[]; info: string; macdInfo: string;
}

const specs: Spec[] = [
  {
    top: 254, sep: 449, bottom: 547, left: 25, right: 733, imgRight: 750, xFirst: 26, xLast: 577,
    domain: [10780, 11450], macdDomain: [-83.5, 54.7], unit: 1e-4, decimals: 5,
    candles: eurCandles, upper: eurUpper, middle: eurMiddle, lower: eurLower,
    levels: eurLevels, current: eurCurrent, ticks: eurTicks,
    hist: eurHist, macd: eurMacd, signal: eurSignal, macdLabels: eurMacdLabels,
    times: timeLabelsA, info: 'EURUSD,H4  1.09200 1.09263 1.09204 1.09216', macdInfo: 'MACD(12,26,9) -0.001454 -0.000885 0.000000 -0.001753',
  },
  {
    top: 755, sep: 951, bottom: 1047, left: 25, right: 743, imgRight: 760, xFirst: 26, xLast: 584,
    domain: [12838, 13818], macdDomain: [-82, 31.4], unit: 1e-4, decimals: 5,
    candles: gbpCandles, upper: gbpUpper, middle: gbpMiddle, lower: gbpLower,
    levels: gbpLevels, current: gbpCurrent, ticks: gbpTicks,
    hist: gbpHist, macd: gbpMacd, signal: gbpSignal, macdLabels: gbpMacdLabels,
    times: timeLabelsA, info: 'GBPUSD,H4  1.30444 1.30478 1.30390 1.30415', macdInfo: 'MACD(12,26,9) -0.004236 -0.003749 0.000000 -0.000591',
  },
  {
    top: 1258, sep: 1452, bottom: 1549, left: 25, right: 743, imgRight: 760, xFirst: 26, xLast: 584,
    domain: [114.21, 118.842], macdDomain: [-134, 332], unit: 1, decimals: 3,
    candles: jpyCandles, upper: jpyUpper, middle: jpyMiddle, lower: jpyLower,
    levels: jpyLevels, current: jpyCurrent, ticks: jpyTicks,
    hist: jpyHist, macd: jpyMacd, signal: jpySignal, macdLabels: jpyMacdLabels,
    times: timeLabelsA, info: 'USDJPY,H4  117.522 117.545 117.400 117.529', macdInfo: 'MACD(12,26,9) 0.4897 0.3779 0.3374 0.0000',
  },
  {
    top: 1758, sep: 2001, bottom: 2051, left: 25, right: 743, imgRight: 760, xFirst: 26, xLast: 581.5,
    domain: [1871.4, 2081.4], macdDomain: [-5.28, 9.06], unit: 1, decimals: 2,
    candles: goldCandles, upper: goldUpper, middle: goldMiddle, lower: goldLower,
    levels: goldLevels, current: goldCurrent, ticks: goldTicks,
    hist: goldHist, macd: goldMacd, signal: goldSignal, macdLabels: goldMacdLabels,
    times: timeLabelsB, info: 'XAUUSD,H4  1980.16 1989.76 1969.56 1974.40', macdInfo: 'MACD(12,26,9) -0.797 1.163 0.000 -1.963',
  },
  {
    top: 2261, sep: 2478, bottom: 2553, left: 25, right: 743, imgRight: 760, xFirst: 26, xLast: 581.5,
    domain: [79.74, 136.77], macdDomain: [-4.84, 5.65], unit: 1, decimals: 3,
    candles: oilCandles, upper: oilUpper, middle: oilMiddle, lower: oilLower,
    levels: oilLevels, current: oilCurrent, ticks: oilTicks,
    hist: oilHist, macd: oilMacd, signal: oilSignal, macdLabels: oilMacdLabels,
    times: timeLabelsB, info: 'USOUSD,H4  106.793 106.806 103.153 103.311', macdInfo: 'MACD(12,26,9) -2.4138 -2.3456 0.0000 -0.2158',
  },
];

const UP = '#dc143c';
const DOWN = '#32cd32';
const CHART_FONT = "'Liberation Sans', Arial, sans-serif";

const Chart: React.FC<{ s: Spec; id: string }> = ({ s, id }) => {
  const n = s.candles.length;
  const x = d3.scaleLinear().domain([1, n]).range([s.xFirst, s.xLast]);
  const y = d3.scaleLinear().domain(s.domain).range([s.sep, s.top]);
  const ym = d3.scaleLinear().domain(s.macdDomain).range([s.bottom, s.sep + 2]);
  const band = d3.line<Knot>().x(d => x(d[0])).y(d => y(d[1])).curve(d3.curveMonotoneX);
  const mline = d3.line<Knot>().x(d => x(d[0])).y(d => ym(d[1])).curve(d3.curveMonotoneX);
  const fmt = (v: number) => (v * s.unit).toFixed(s.decimals);
  const bw = 4;
  const labelW = s.imgRight - s.right - 1;
  const zero = ym(0);
  const timeIdx = s.times.map((_, k) => 1 + 4 * k);

  return (
    <g fontFamily={CHART_FONT}>
      <defs>
        <clipPath id={id + 'm'}><rect x={s.left} y={s.top} width={s.right - s.left} height={s.sep - s.top} /></clipPath>
        <clipPath id={id + 'd'}><rect x={s.left} y={s.sep + 1} width={s.right - s.left} height={s.bottom - s.sep - 1} /></clipPath>
      </defs>
      <rect x={s.left} y={s.top - 1} width={s.imgRight - s.left} height={s.bottom - s.top + 12} fill="#fffff0" />

      <g clipPath={`url(#${id}m)`}>
        {s.levels.map((v, i) => (
          <line key={'lv' + i} x1={s.left} x2={s.right} y1={y(v)} y2={y(v)} stroke="#f39a9a" strokeWidth={2} />
        ))}
        <line x1={s.left} x2={s.right} y1={y(s.current)} y2={y(s.current)} stroke="#c4c4c4" strokeWidth={1} />
        {[s.upper, s.middle, s.lower].map((b, i) => (
          <path key={'bb' + i} d={band(b) || ''} fill="none" stroke="#9ad6a8" strokeWidth={1} />
        ))}
        {s.candles.map((c, i) => {
          const [o, h, l, cl] = c;
          const up = cl >= o;
          const col = up ? UP : DOWN;
          const cx = x(i + 1);
          const yt = y(Math.max(o, cl));
          const yb = y(Math.min(o, cl));
          return (
            <g key={'c' + i}>
              <line x1={cx} x2={cx} y1={y(h)} y2={y(l)} stroke={col} strokeOpacity={0.55} strokeWidth={1} />
              <rect x={cx - bw / 2} y={yt} width={bw} height={Math.max(1, yb - yt)} fill={col} />
            </g>
          );
        })}
      </g>

      <g clipPath={`url(#${id}d)`}>
        {s.hist.map((v, i) => {
          const prev = i > 0 ? s.hist[i - 1] : 0;
          const col = v >= 0 ? (v >= prev ? '#e00000' : '#ff9c9c') : (v <= prev ? '#0a8a0a' : '#86c886');
          return (
            <line key={'h' + i} x1={x(i + 1)} x2={x(i + 1)} y1={zero} y2={ym(v)} stroke={col} strokeWidth={1.3} />
          );
        })}
        <path d={mline(s.macd) || ''} fill="none" stroke="#8c8cff" strokeWidth={1} />
        <path d={mline(s.signal) || ''} fill="none" stroke="#ff2a2a" strokeWidth={1.5} />
      </g>

      <rect x={s.left} y={s.top} width={s.right - s.left} height={s.bottom - s.top} fill="none" stroke="#8a8a8a" strokeWidth={1} />
      <line x1={s.left} x2={s.right} y1={s.sep} y2={s.sep} stroke="#8a8a8a" strokeWidth={2} />

      <text x={s.left + 3} y={s.top + 7} fontSize={5} fill="#000">{s.info}</text>
      <text x={s.left + 3} y={s.sep + 9} fontSize={5} fill="#000">{s.macdInfo}</text>

      {s.ticks.map((v, i) => (
        <g key={'t' + i}>
          <line x1={s.right} x2={s.right + 2} y1={y(v)} y2={y(v)} stroke="#666" strokeWidth={0.6} />
          <text x={s.right + 3} y={y(v) + 1.8} fontSize={5} fill="#000">{fmt(v)}</text>
        </g>
      ))}
      {s.levels.map((v, i) => (
        <g key={'lb' + i}>
          <rect x={s.right + 1} y={y(v) - 3.5} width={labelW} height={7} fill="#f01010" />
          <text x={s.right + 2.5} y={y(v) + 1.8} fontSize={5} fill="#fff">{fmt(v)}</text>
        </g>
      ))}
      <rect x={s.right + 1} y={y(s.current) - 3.5} width={labelW} height={7} fill="#000" />
      <text x={s.right + 2.5} y={y(s.current) + 1.8} fontSize={5} fill="#fff">{fmt(s.current)}</text>

      {s.macdLabels.map(([v, t], i) => (
        <text key={'ml' + i} x={s.right + 3} y={ym(v) + 1.8} fontSize={5} fill="#000">{t}</text>
      ))}

      {timeIdx.map((idx, k) => (
        <g key={'tm' + k}>
          <line x1={x(idx)} x2={x(idx)} y1={s.bottom} y2={s.bottom + 3} stroke="#666" strokeWidth={0.6} />
          <text x={x(idx) + 1} y={s.bottom + 7.5} fontSize={4.6} fill="#000">{s.times[k]}</text>
        </g>
      ))}
    </g>
  );
};

const CJK = "'Noto Sans CJK SC', 'Noto Sans', sans-serif";

const sectionTexts = [eurText, gbpText, jpyText, goldText, oilText];
const sectionHeaderY = [113, 614, 1116, 1618, 2119];
const footerY = [2610, 2639, 2668, 2697, 2726, 2766, 2805, 2835, 2864, 2903, 2932, 2971, 3001, 3040, 3070, 3098, 3127, 3167, 3196, 3235, 3265, 3293];

export default function App() {
  return (
    <svg width={773} height={3300} style={{ position: 'absolute', left: 0, top: 0, display: 'block' }} fontFamily={CJK}>
      <rect x={0} y={0} width={773} height={3300} fill="#fff" />
      <text x={392} y={30} fontSize={24} fontWeight="bold" textAnchor="middle" fill="#111" textLength={615} lengthAdjust="spacingAndGlyphs">{titleText}</text>
      <text x={392} y={68} fontSize={15} textAnchor="middle" fill="#a0a0a0">{subtitleText}</text>

      {sectionTitles.map((t, si) => {
        const hy = sectionHeaderY[si];
        const lines = sectionTexts[si];
        return (
          <g key={'sec' + si}>
            <text x={25} y={hy} fontSize={17} fontWeight="bold" fill="#e8731c">{t}</text>
            {lines.map((ln, li) => {
              const full = li < lines.length - 1;
              const w = si === 3 && li === 1 ? 692 : 725;
              return (
                <text key={'l' + li} x={25} y={hy + 40 + li * 27.7} fontSize={16} fill="#222"
                  {...(full ? { textLength: w, lengthAdjust: 'spacingAndGlyphs' } : {})}>{ln}</text>
              );
            })}
          </g>
        );
      })}

      {specs.map((s, i) => <Chart key={'ch' + i} s={s} id={'ch' + i} />)}

      <line x1={25} x2={760} y1={2078} y2={2078} stroke="#ececec" strokeWidth={1} />
      <line x1={25} x2={760} y1={2569} y2={2569} stroke="#ececec" strokeWidth={1} />

      {footerLines.map(([b, t, full], i) => (
        <text key={'f' + i} x={25} y={footerY[i]} fontSize={11.8} fill="#3a3a3a"
          {...(full ? { textLength: 728, lengthAdjust: 'spacingAndGlyphs' } : {})}>
          {b ? <tspan fontWeight="bold" fill="#222">{b}</tspan> : null}
          <tspan>{t}</tspan>
        </text>
      ))}
    </svg>
  );
}
